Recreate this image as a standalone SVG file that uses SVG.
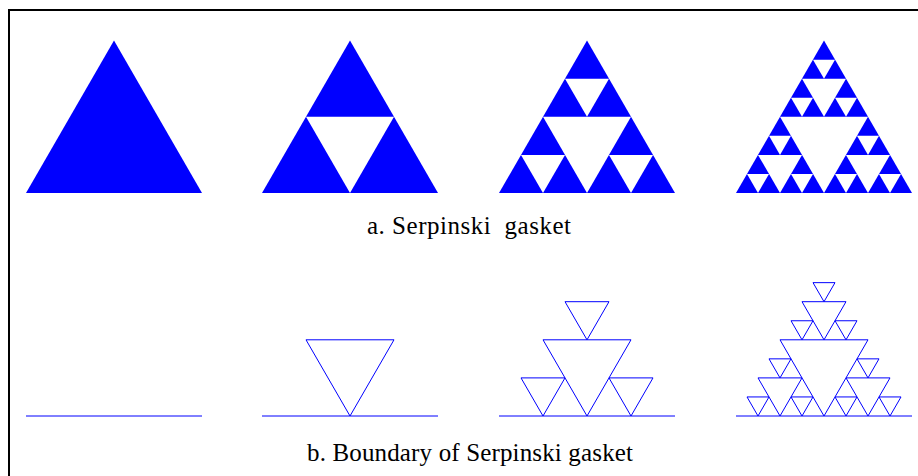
<svg xmlns="http://www.w3.org/2000/svg" width="918" height="476" viewBox="0 0 918 476">
<style>
.tri{fill:#0000ff;stroke:none}
.hole{fill:#ffffff;stroke:none}
.bd{fill:none;stroke:#0000ff;stroke-width:1}
.lbl{font-family:"Liberation Serif","Times New Roman",serif;fill:#000000;white-space:pre}
</style>
<rect x="0" y="0" width="918" height="476" fill="#ffffff"/>
<rect x="9" y="10" width="930" height="490" fill="none" stroke="#000000" stroke-width="2"/>
<defs>
<g id="h2">
<polygon points="306,116.8 394,116.8 350,193"/>
</g>
<g id="h3">
<polygon points="543,116.8 631,116.8 587,193"/>
<polygon points="521,154.9 565,154.9 543,193"/>
<polygon points="609,154.9 653,154.9 631,193"/>
<polygon points="565,78.7 609,78.7 587,116.8"/>
</g>
<g id="h4">
<polygon points="780,116.8 868,116.8 824,193"/>
<polygon points="758,154.9 802,154.9 780,193"/>
<polygon points="846,154.9 890,154.9 868,193"/>
<polygon points="802,78.7 846,78.7 824,116.8"/>
<polygon points="747,173.95 769,173.95 758,193"/>
<polygon points="791,173.95 813,173.95 802,193"/>
<polygon points="769,135.85 791,135.85 780,154.9"/>
<polygon points="835,173.95 857,173.95 846,193"/>
<polygon points="879,173.95 901,173.95 890,193"/>
<polygon points="857,135.85 879,135.85 868,154.9"/>
<polygon points="791,97.75 813,97.75 802,116.8"/>
<polygon points="835,97.75 857,97.75 846,116.8"/>
<polygon points="813,59.65 835,59.65 824,78.7"/>
</g>
</defs>
<g id="gasket">
<polygon class="tri" points="26,193 202,193 114,40.6"/>
<polygon class="tri" points="262,193 438,193 350,40.6"/>
<polygon class="tri" points="499,193 675,193 587,40.6"/>
<polygon class="tri" points="736,193 912,193 824,40.6"/>
<use href="#h2" class="hole"/>
<use href="#h3" class="hole"/>
<use href="#h4" class="hole"/>
</g>
<g id="boundary">
<line class="bd" x1="26" y1="416" x2="202" y2="416"/>
<line class="bd" x1="262" y1="416" x2="438" y2="416"/>
<line class="bd" x1="499" y1="416" x2="675" y2="416"/>
<line class="bd" x1="736" y1="416" x2="912" y2="416"/>
<use href="#h2" class="bd" transform="translate(0,223)"/>
<use href="#h3" class="bd" transform="translate(0,223)"/>
<use href="#h4" class="bd" transform="translate(0,223)"/>
</g>
<text class="lbl" x="367" y="234" font-size="25" textLength="204" lengthAdjust="spacing" xml:space="preserve">a. Serpinski  gasket</text>
<text class="lbl" x="307" y="461" font-size="25" textLength="326" lengthAdjust="spacing">b. Boundary of Serpinski gasket</text>
</svg>
